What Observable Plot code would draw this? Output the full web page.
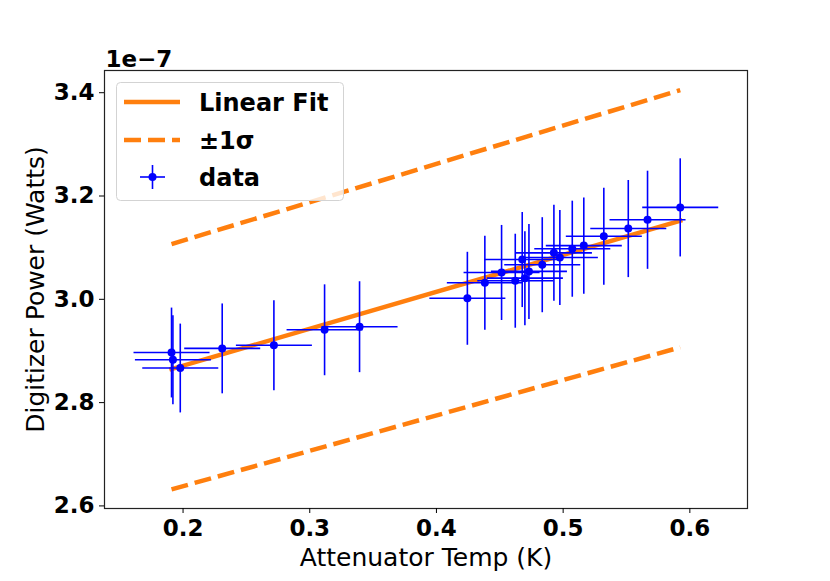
<!DOCTYPE html>
<html><head><meta charset="utf-8">
<script src="https://cdn.jsdelivr.net/npm/d3@7"></script>
<script src="https://cdn.jsdelivr.net/npm/@observablehq/plot@0.6"></script>
<style>
body{margin:0;background:#fff;}
#chart{position:relative;width:830px;height:581px;}
#chart svg [aria-label$="tick label"] text, #chart svg [aria-label$="tick label"]{font-weight:bold;}
</style></head><body><div id="chart"></div>
<script>
const tempK    = [0.1909, 0.1920, 0.1978, 0.2309, 0.2717, 0.3117, 0.3393, 0.4244, 0.4382, 0.4514, 0.4622, 0.4677, 0.4698, 0.4730, 0.4835, 0.4927, 0.4974, 0.5072, 0.5163, 0.5321, 0.5514, 0.5666, 0.5924];
const powerE7  = [2.897, 2.883, 2.867, 2.905, 2.911, 2.941, 2.947, 3.002, 3.032, 3.052, 3.036, 3.077, 3.041, 3.054, 3.067, 3.090, 3.081, 3.098, 3.104, 3.122, 3.137, 3.154, 3.178];
const tempErr  = [0.030, 0.030, 0.030, 0.030, 0.030, 0.030, 0.030, 0.030, 0.030, 0.030, 0.030, 0.030, 0.030, 0.030, 0.030, 0.030, 0.030, 0.030, 0.030, 0.030, 0.030, 0.030, 0.030];
const powerErr = [0.087, 0.086, 0.086, 0.087, 0.087, 0.088, 0.088, 0.090, 0.091, 0.092, 0.091, 0.092, 0.091, 0.092, 0.092, 0.093, 0.092, 0.093, 0.093, 0.094, 0.094, 0.095, 0.095];
const fitTemp    = [0.1909, 0.5924];
const fitPower   = [2.865, 3.152];
const upperPower = [3.107, 3.405];
const lowerPower = [2.632, 2.907];
const xTicks = [0.2, 0.3, 0.4, 0.5, 0.6];
const yTicks = [2.6, 2.8, 3.0, 3.2, 3.4];
const xLabel = "Attenuator Temp (K)";
const yLabel = "Digitizer Power (Watts)";
const offsetText = "1e\u22127";
const legendLabels = ["Linear Fit", "\u00b11\u03c3", "data"];

const ORANGE = "#ff7f0e", BLUE = "#0000ff";
const points = tempK.map((t, i) => ({t, p: powerE7[i], te: tempErr[i], pe: powerErr[i]}));
const fit = fitTemp.map((t, i) => ({t, fit: fitPower[i], up: upperPower[i], lo: lowerPower[i]}));

const chart = Plot.plot({
  width: 830, height: 581,
  marginLeft: 104, marginRight: 83, marginTop: 70, marginBottom: 73,
  style: {fontFamily: "DejaVu Sans", background: "white", overflow: "visible", color: "black"},
  x: {domain: [0.138, 0.6455]},
  y: {domain: [2.595, 3.443]},
  marks: [
    Plot.line(fit, {x: "t", y: "fit", stroke: ORANGE, strokeWidth: 4.5, strokeLinecap: "square"}),
    Plot.line(fit, {x: "t", y: "up", stroke: ORANGE, strokeWidth: 4.5, strokeDasharray: "17,7", strokeLinecap: "butt"}),
    Plot.line(fit, {x: "t", y: "lo", stroke: ORANGE, strokeWidth: 4.5, strokeDasharray: "17,7", strokeLinecap: "butt"}),
    Plot.link(points, {x1: d => d.t - d.te, x2: d => d.t + d.te, y1: "p", y2: "p", stroke: BLUE, strokeWidth: 1.6}),
    Plot.link(points, {x1: "t", x2: "t", y1: d => d.p - d.pe, y2: d => d.p + d.pe, stroke: BLUE, strokeWidth: 1.6}),
    Plot.dot(points, {x: "t", y: "p", r: 4, fill: BLUE}),
    Plot.frame({stroke: "#222", strokeWidth: 1.2}),
    Plot.axisX(xTicks, {tickFormat: d3.format(".1f"), tickSize: 5, tickPadding: 6, fontSize: 23, fontWeight: "bold", label: null}),
    Plot.axisY(yTicks, {tickFormat: d3.format(".1f"), tickSize: 5, tickPadding: 5, fontSize: 23, fontWeight: "bold", label: null}),
    Plot.text([offsetText], {frameAnchor: "top-left", textAnchor: "start", lineAnchor: "bottom", dx: 1, dy: -4, fontSize: 23, fontWeight: "bold"}),
    Plot.text([xLabel], {frameAnchor: "bottom", textAnchor: "middle", lineAnchor: "bottom", dy: 57, fontSize: 25}),
    Plot.text([yLabel], {frameAnchor: "left", textAnchor: "middle", rotate: -90, lineAnchor: "middle", dx: -69, fontSize: 25})
  ]
});
document.getElementById("chart").appendChild(chart);

// legend
const svg = d3.select(chart);
const lg = svg.append("g").attr("font-family", "DejaVu Sans").attr("text-anchor", "start");
lg.append("rect").attr("x", 116.5).attr("y", 82.5).attr("width", 227).attr("height", 118).attr("rx", 4)
  .attr("fill", "white").attr("fill-opacity", 0.8).attr("stroke", "#d3d3d3");
lg.append("line").attr("x1", 124).attr("x2", 180).attr("y1", 102).attr("y2", 102)
  .attr("stroke", ORANGE).attr("stroke-width", 4.5);
lg.append("line").attr("x1", 124).attr("x2", 180).attr("y1", 140).attr("y2", 140)
  .attr("stroke", ORANGE).attr("stroke-width", 4.5).attr("stroke-dasharray", "17,7");
lg.append("line").attr("x1", 140).attr("x2", 165).attr("y1", 177).attr("y2", 177).attr("stroke", BLUE).attr("stroke-width", 1.6);
lg.append("line").attr("x1", 152.5).attr("x2", 152.5).attr("y1", 165).attr("y2", 189).attr("stroke", BLUE).attr("stroke-width", 1.6);
lg.append("circle").attr("cx", 152.5).attr("cy", 177).attr("r", 4).attr("fill", BLUE);
[111, 149, 186].forEach((yb, i) => {
  lg.append("text").attr("x", 199).attr("y", yb).attr("text-anchor", "start")
    .attr("font-size", 24).attr("font-weight", "bold").text(legendLabels[i]);
});
</script></body></html>
